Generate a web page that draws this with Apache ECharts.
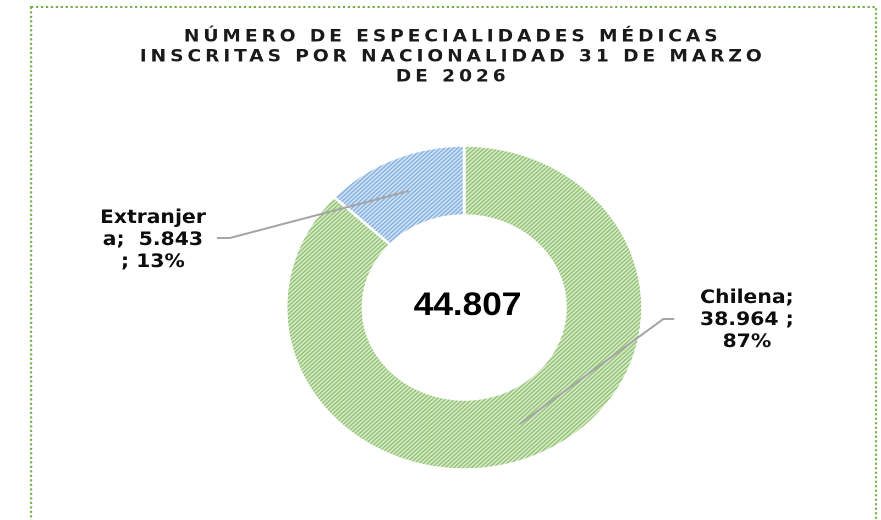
<!DOCTYPE html>
<html>
<head>
<meta charset="utf-8">
<script src="https://cdn.jsdelivr.net/npm/echarts@6/dist/echarts.min.js"></script>
<style>
html, body { margin: 0; padding: 0; background: #fff; overflow: hidden; }
/* the original picture is stretched ~10% horizontally */
#chart { width: 801px; height: 520px; transform: scaleX(1.1); transform-origin: 0 0; }
</style>
</head>
<body>
<div id="chart"></div>
<script>
var titleLines = ['NÚMERO DE ESPECIALIDADES MÉDICAS', 'INSCRITAS POR NACIONALIDAD 31 DE MARZO', 'DE 2026'];
var categories = ['Chilena', 'Extranjera'];
var values = [38964, 5843];

// spaced-out title letters (only for the title font)
var fillText = CanvasRenderingContext2D.prototype.fillText;
CanvasRenderingContext2D.prototype.fillText = function (text, x, y, maxWidth) {
    if (this.font.indexOf('Verdana') < 0) return fillText.apply(this, arguments);
    var old = this.letterSpacing;
    this.letterSpacing = '3.5px';
    fillText.apply(this, arguments);
    this.letterSpacing = old;
};

function fmt(v) {
    return String(v).replace(/\B(?=(\d{3})+(?!\d))/g, '.');
}

function hatch(bg, mid, line) {
    var c = document.createElement('canvas');
    c.width = 4;
    c.height = 4;
    var ctx = c.getContext('2d');
    ctx.fillStyle = bg;
    ctx.fillRect(0, 0, 4, 4);
    for (var i = 0; i < 4; i++) {
        ctx.fillStyle = line;
        ctx.fillRect(i, 3 - i, 1, 1);
        ctx.fillStyle = mid;
        ctx.fillRect(i, (4 - i) % 4, 1, 1);
    }
    return { image: c, repeat: 'repeat' };
}

var fills = [hatch('#e4f1da', '#a8d28c', '#6fae48'), hatch('#deebf8', '#9cc3ea', '#5f97d6')];
var total = values.reduce(function (a, b) { return a + b; }, 0);
var center = [422, 307.5];

var chart = echarts.init(document.getElementById('chart'), null, { devicePixelRatio: 2 });
chart.setOption({
    animation: false,
    title: {
        text: titleLines.join('\n'),
        left: 411.5,
        top: 27,
        padding: 0,
        textAlign: 'center',
        textStyle: {
            fontFamily: 'Verdana, "DejaVu Sans"',
            fontWeight: 'bold',
            fontSize: 17,
            lineHeight: 20,
            color: '#1a1a1a'
        }
    },
    graphic: [
        {
            type: 'rect',
            silent: true,
            shape: { x: 28.2, y: 7, width: 768.2, height: 540 },
            style: { fill: 'none', stroke: '#70ad47', lineWidth: 2, lineDash: [2, 2.5] }
        },
        {
            type: 'text',
            silent: true,
            x: 425,
            y: 306,
            style: {
                text: fmt(total),
                font: 'bold 32px "Liberation Sans"',
                fill: '#000',
                align: 'center',
                verticalAlign: 'middle',
                textAlign: 'center',
                textVerticalAlign: 'middle'
            }
        }
    ],
    series: [
        {
            type: 'pie',
            silent: true,
            center: center,
            radius: [92, 162],
            startAngle: 90,
            label: { show: false },
            labelLine: { show: false },
            itemStyle: { borderColor: '#fff', borderWidth: 2.5 },
            data: categories.map(function (n, i) {
                return { name: n, value: values[i], itemStyle: { color: fills[i] } };
            })
        },
        {
            // invisible pie: only carries the labels and their leader lines
            type: 'pie',
            silent: true,
            z: 3,
            center: center,
            radius: [0, 127],
            startAngle: 90,
            percentPrecision: 0,
            avoidLabelOverlap: false,
            emphasis: { disabled: true },
            itemStyle: { color: 'rgba(0,0,0,0)', borderWidth: 0 },
            label: {
                show: true,
                position: 'outside',
                fontFamily: '"DejaVu Sans"',
                fontWeight: 'bold',
                fontSize: 18.5,
                lineHeight: 22,
                color: '#0d0d0d',
                align: 'center',
                formatter: function (p) {
                    if (p.dataIndex === 1) {
                        return p.name.slice(0, -1) + '\n' + p.name.slice(-1) + ';  ' + fmt(p.value) + '\n; ' + p.percent + '%';
                    }
                    return p.name + ';\n' + fmt(p.value) + ' ;\n' + p.percent + '%';
                }
            },
            labelLine: { show: true, lineStyle: { color: '#a6a6a6', width: 2 } },
            labelLayout: function (p) {
                var a = p.labelLinePoints ? p.labelLinePoints[0] : null;
                var out;
                if (p.dataIndex === 1) {
                    out = { x: 139, y: 240, align: 'center', verticalAlign: 'middle' };
                    if (a) out.labelLinePoints = [a, [209, 238], [197, 238]];
                } else {
                    out = { x: 679, y: 320, align: 'center', verticalAlign: 'middle' };
                    if (a) out.labelLinePoints = [a, [603, 319], [613, 319]];
                }
                return out;
            },
            data: categories.map(function (n, i) {
                return { name: n, value: values[i] };
            })
        }
    ]
});
</script>
</body>
</html>
